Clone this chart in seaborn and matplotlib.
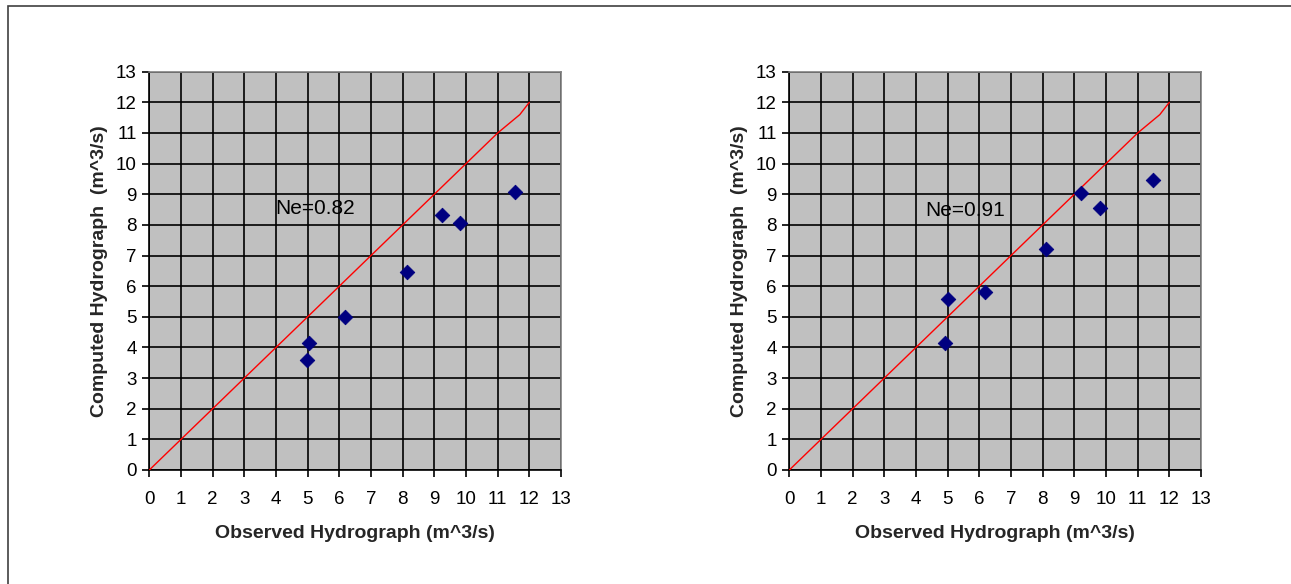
import matplotlib
matplotlib.use("Agg")
import matplotlib.pyplot as plt
import numpy as np
import pandas as pd
import seaborn as sns

# ─── data ────────────────────────────────────────────────────────────────────
obs_a = [4.97, 5.04, 6.19, 8.13, 9.23, 9.81, 11.56]
comp_a = [3.59, 4.16, 4.98, 6.46, 8.33, 8.05, 9.07]
obs_b = [4.93, 5.02, 6.18, 8.09, 9.21, 9.81, 11.50]
comp_b = [4.16, 5.59, 5.81, 7.20, 9.03, 8.54, 9.47]
line_x = [0, 1, 2, 3, 4, 5, 6, 7, 8, 9, 10, 11, 11.7, 12]
line_y = [0, 1, 2, 3, 4, 5, 6, 7, 8, 9, 10, 11, 11.6, 12]
ne_labels = ["Ne=0.82", "Ne=0.91"]
ne_pos = [(3.97, 8.53), (4.28, 8.47)]
ticks = list(range(0, 14))

sns.set_style("white")
plt.rcParams["font.family"] = ["Liberation Sans", "DejaVu Sans"]

fig = plt.figure(figsize=(12.91, 5.84), dpi=100)
# outer chart frame
fig.patches.append(plt.Rectangle((8 / 1291, -0.1), 1.2, (584 - 6) / 584 + 0.1,
                                 transform=fig.transFigure, fill=False,
                                 edgecolor="#404040", lw=1.2))

W, H = 1291, 584
boxes = [(149.3, 561.0), (789.3, 1201.0)]
panels = [(obs_a, comp_a), (obs_b, comp_b)]

for (x0, x1), (obs, comp), lab, pos in zip(boxes, panels, ne_labels, ne_pos):
    ax = fig.add_axes([x0 / W, (H - 470) / H, (x1 - x0) / W, (470 - 71.7) / H])
    ax.set_facecolor("#C0C0C0")
    df = pd.DataFrame({"obs": obs, "comp": comp})
    ln = pd.DataFrame({"x": line_x, "y": line_y})
    sns.lineplot(data=ln, x="x", y="y", color="red", lw=1.0, ax=ax,
                 estimator=None, sort=False, zorder=3)
    sns.scatterplot(data=df, x="obs", y="comp", marker="D", s=55,
                    color="#000080", edgecolor="#000080", ax=ax, zorder=4)
    ax.set_xlim(0, 13)
    ax.set_ylim(0, 13)
    ax.set_xticks(ticks)
    ax.set_yticks(ticks)
    ax.grid(True, color="black", lw=1.2)
    ax.set_axisbelow(True)
    ax.tick_params(axis="both", direction="out", length=5, width=1.2,
                   colors="black", labelsize=13.5, bottom=True, left=True)
    ax.tick_params(axis="x", pad=10)
    ax.tick_params(axis="y", pad=4)
    for side in ["left", "bottom"]:
        ax.spines[side].set_color("black")
        ax.spines[side].set_linewidth(1.2)
    for side in ["top", "right"]:
        ax.spines[side].set_color("#808080")
        ax.spines[side].set_linewidth(1.2)
    ax.set_xlabel("Observed Hydrograph (m^3/s)", fontsize=14,
                  fontweight="bold", labelpad=12)
    ax.set_ylabel("Computed Hydrograph  (m^3/s)", fontsize=14,
                  fontweight="bold", labelpad=6)
    ax.text(pos[0], pos[1], lab, fontsize=15, va="center", ha="left",
            color="black", zorder=5)

fig.savefig("out.png", dpi=100)
